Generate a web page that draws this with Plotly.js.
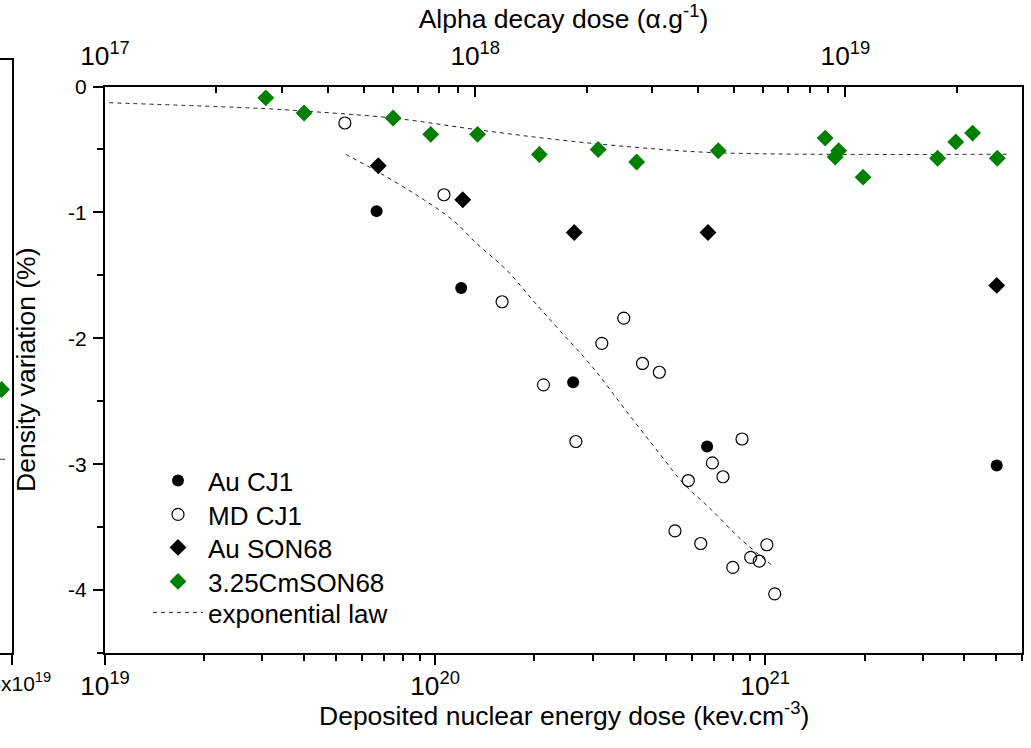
<!DOCTYPE html>
<html>
<head>
<meta charset="utf-8">
<script src="https://cdn.plot.ly/plotly-3.0.1.min.js"></script>
<style>html,body{margin:0;padding:0;background:#fff;}#chart{width:1031px;height:748px;}</style>
</head>
<body>
<div id="chart"></div>
<script>
// ---- data (deposited nuclear energy dose in keV.cm^-3, density variation in %) ----
const auCJ1X = [6.65e19, 1.20e20, 2.62e20, 6.67e20, 5.03e21];
const auCJ1Y = [-0.99, -1.60, -2.35, -2.86, -3.01];

const mdCJ1X = [5.33e19, 1.064e20, 1.596e20, 2.13e20, 2.67e20, 3.20e20, 3.73e20, 4.25e20, 4.78e20, 5.33e20,
                5.85e20, 6.38e20, 6.92e20, 7.45e20, 7.98e20, 8.51e20, 9.04e20, 9.60e20, 1.012e21, 1.069e21];
const mdCJ1Y = [-0.29, -0.86, -1.71, -2.37, -2.82, -2.04, -1.84, -2.20, -2.27, -3.53,
                -3.13, -3.63, -2.99, -3.10, -3.82, -2.80, -3.74, -3.77, -3.64, -4.03];

const auSONX = [6.73e19, 1.213e20, 2.64e20, 6.71e20, 5.03e21];
const auSONY = [-0.63, -0.90, -1.16, -1.16, -1.58];

const cmSONX = [3.07e19, 4.01e19, 7.46e19, 9.70e19, 1.345e20, 2.07e20, 3.12e20, 4.08e20, 7.21e20,
                1.52e21, 1.63e21, 1.67e21, 1.98e21, 3.33e21, 3.78e21, 4.25e21, 5.05e21];
const cmSONY = [-0.09, -0.21, -0.25, -0.38, -0.38, -0.54, -0.50, -0.60, -0.51,
                -0.41, -0.56, -0.51, -0.72, -0.57, -0.44, -0.37, -0.57];

// exponential law curves
const expUpX = [1.03e19, 2.95e19, 3.90e19, 7.46e19, 1.34e20, 2.39e20, 4.18e20, 7.30e20, 5.40e21];
const expUpY = [-0.129, -0.174, -0.193, -0.251, -0.343, -0.425, -0.486, -0.527, -0.538];
const expLowX = [5.37e19, 6.73e19, 9.0e19, 1.13e20, 1.34e20, 1.65e20, 1.98e20, 2.39e20, 3.0e20,
                 3.80e20, 4.80e20, 5.64e20, 6.80e20, 8.39e20, 1.057e21];
const expLowY = [-0.54, -0.68, -0.88, -1.06, -1.25, -1.46, -1.70, -1.94, -2.23,
                 -2.58, -2.92, -3.15, -3.35, -3.59, -3.81];

// axis ranges / tick labels
const bottomRange = [1e19, 6e21];      // keV.cm^-3
const topRange = [1e17, 3e19];         // alpha.g^-1
const yRange = [-4.5, 0];
const yTickVals = [0, -1, -2, -3, -4];
const yTickText = ['0', '-1', '-2', '-3', '-4'];

// neighbouring (cut-off) panel at the far left
const nbRange = [1.4, 1.5];
const nbTickVals = [1.5];
const nbTickText = ['1.5x10<sup>19</sup>'];
const nbPointX = [1.413];
const nbPointY = [-2.5];
const nbLineX = [1.4, 1.4435];
const nbLineY = [-3.03, -3.03];

const W = 1031, H = 748;
const FONT = 'Liberation Sans, Arial, sans-serif';
const px = v => v / W;
const py = v => (H - v) / H;

const curveLine = {color: '#222', width: 1, dash: '4px,4px', shape: 'spline'};

const traces = [
  {x: topRange, y: yRange, xaxis: 'x2', yaxis: 'y', mode: 'markers', showlegend: false,
   marker: {opacity: 0, size: 1}, hoverinfo: 'skip'},
  {x: expUpX, y: expUpY, mode: 'lines', name: 'exponential law', legend: 'legend5',
   line: curveLine, hoverinfo: 'skip'},
  {x: expLowX, y: expLowY, mode: 'lines', name: 'exponential law', showlegend: false,
   line: curveLine, hoverinfo: 'skip'},
  {x: auCJ1X, y: auCJ1Y, mode: 'markers', name: 'Au CJ1', legend: 'legend',
   marker: {symbol: 'circle', size: 12, color: 'black'}},
  {x: mdCJ1X, y: mdCJ1Y, mode: 'markers', name: 'MD CJ1', legend: 'legend2',
   marker: {symbol: 'circle-open', size: 12, color: 'black', line: {width: 1.2}}},
  {x: auSONX, y: auSONY, mode: 'markers', name: 'Au SON68', legend: 'legend3',
   marker: {symbol: 'diamond', size: 13, color: 'black'}},
  {x: cmSONX, y: cmSONY, mode: 'markers', name: '3.25CmSON68', legend: 'legend4',
   marker: {symbol: 'diamond', size: 13, color: '#008000'}},
  {x: nbPointX, y: nbPointY, xaxis: 'x3', yaxis: 'y3', mode: 'markers', showlegend: false,
   cliponaxis: false, marker: {symbol: 'diamond', size: 13, color: '#008000'}},
  {x: nbLineX, y: nbLineY, xaxis: 'x3', yaxis: 'y3', mode: 'lines', showlegend: false,
   line: {color: '#333', width: 1}}
];

const common = {
  showgrid: false, zeroline: false, showline: true, linecolor: 'black', linewidth: 2,
  tickcolor: 'black', tickwidth: 2, tickfont: {family: FONT, size: 21, color: 'black'}
};

const legendRowsY = [481, 515, 548, 582, 613];
function legendAt(rowY) {
  return {x: px(148), y: py(rowY - 24), xanchor: 'left', yanchor: 'top', itemwidth: 50,
          bgcolor: 'rgba(0,0,0,0)', borderwidth: 0,
          font: {family: FONT, size: 26, color: 'black'}};
}

const layout = {
  width: W, height: H,
  margin: {l: 0, r: 0, t: 0, b: 0},
  paper_bgcolor: 'white', plot_bgcolor: 'white',
  font: {family: FONT, color: 'black'},
  showlegend: true,
  legend: legendAt(legendRowsY[0]),
  legend2: legendAt(legendRowsY[1]),
  legend3: legendAt(legendRowsY[2]),
  legend4: legendAt(legendRowsY[3]),
  legend5: legendAt(legendRowsY[4]),
  xaxis: Object.assign({}, common, {
    type: 'log', domain: [px(105), px(1022)], anchor: 'y',
    range: bottomRange.map(Math.log10), autorange: false,
    dtick: 1, exponentformat: 'power', ticks: 'outside', ticklen: 10,
    minor: {dtick: 'D1', ticks: 'outside', ticklen: 6, tickwidth: 2, tickcolor: 'black', showgrid: false},
    ticklabelstandoff: 0
  }),
  xaxis2: Object.assign({}, common, {
    type: 'log', overlaying: 'x', side: 'top', anchor: 'y',
    range: topRange.map(Math.log10), autorange: false,
    dtick: 1, exponentformat: 'power', ticks: 'inside', ticklen: 10,
    minor: {dtick: 'D1', ticks: 'inside', ticklen: 6, tickwidth: 2, tickcolor: 'black', showgrid: false},
    ticklabelstandoff: 10,
    title: {text: 'Alpha decay dose (α.g<sup>-1</sup>)',
            font: {family: FONT, size: 26.5, color: 'black'}, standoff: 1}
  }),
  yaxis: Object.assign({}, common, {
    domain: [py(653), py(86.5)], anchor: 'x', mirror: true,
    range: yRange, autorange: false,
    tickmode: 'array', tickvals: yTickVals, ticktext: yTickText,
    ticks: 'outside', ticklen: 10,
    minor: {dtick: 0.5, tick0: 0, ticks: 'outside', ticklen: 6, tickwidth: 2, tickcolor: 'black', showgrid: false},
    ticklabelstandoff: 2,
    title: {text: 'Density variation (%)', font: {family: FONT, size: 26.5, color: 'black'}, standoff: 25}
  }),
  xaxis3: Object.assign({}, common, {
    domain: [0, px(11.5)], anchor: 'y3', mirror: true,
    range: nbRange, autorange: false,
    tickmode: 'array', tickvals: nbTickVals, ticktext: nbTickText,
    ticks: 'outside', ticklen: 10, ticklabelstandoff: 1, ticklabeloverflow: 'allow'
  }),
  yaxis3: Object.assign({}, common, {
    domain: [py(653), py(60)], anchor: 'x3', side: 'right',
    range: yRange, autorange: false, showticklabels: false, ticks: ''
  }),
  annotations: [{
    // bottom axis title (placed as paper text so it sits as close to the tick labels as in the original)
    text: 'Deposited nuclear energy dose (kev.cm<sup>-3</sup>)',
    xref: 'paper', yref: 'paper', x: px(563.5), y: py(714), xanchor: 'center', yanchor: 'middle',
    showarrow: false, font: {family: FONT, size: 26.5, color: 'black'}
  }]
};

Plotly.newPlot('chart', traces, layout, {displayModeBar: false, staticPlot: true});
</script>
</body>
</html>
